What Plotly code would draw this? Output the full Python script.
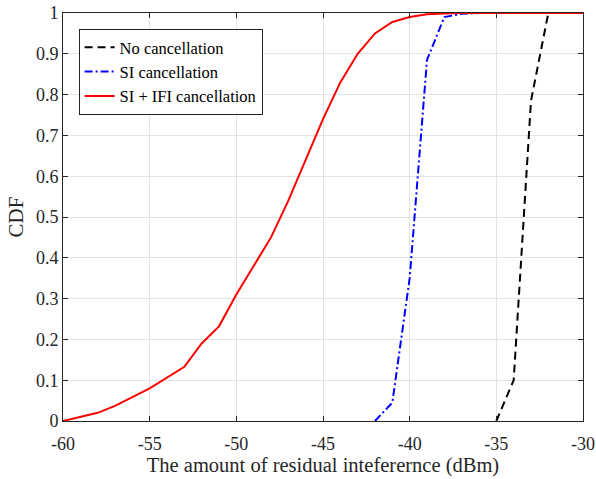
import plotly.graph_objects as go

# Data
x_none = [-35, -34, -33, -32, -30]
y_none = [0, 0.10, 0.785, 1.0, 1.0]

x_si = [-42, -41, -40, -39, -38, -37, -36, -30]
y_si = [0, 0.045, 0.35, 0.885, 0.99, 0.998, 1.0, 1.0]

x_ifi = [-60, -58, -57, -55, -53, -52, -51, -50, -49, -48, -47, -46, -45,
         -44, -43, -42, -41, -40, -39, -38, -37, -30]
y_ifi = [0, 0.02, 0.037, 0.08, 0.133, 0.19, 0.232, 0.31, 0.38, 0.45, 0.54,
         0.64, 0.74, 0.83, 0.90, 0.95, 0.978, 0.99, 0.997, 0.999, 1.0, 1.0]

x_ticks = [-60, -55, -50, -45, -40, -35, -30]
y_ticks = [0, 0.1, 0.2, 0.3, 0.4, 0.5, 0.6, 0.7, 0.8, 0.9, 1]
y_ticklabels = ["0", "0.1", "0.2", "0.3", "0.4", "0.5", "0.6", "0.7", "0.8", "0.9", "1"]

FONT = "Liberation Serif"

fig = go.Figure()
fig.add_trace(go.Scatter(x=x_none, y=y_none, mode="lines", name="No cancellation",
                         line=dict(color="black", width=2, dash="8px,5px")))
fig.add_trace(go.Scatter(x=x_si, y=y_si, mode="lines", name="SI cancellation",
                         line=dict(color="blue", width=2, dash="8px,3px,2px,3px")))
fig.add_trace(go.Scatter(x=x_ifi, y=y_ifi, mode="lines", name="SI + IFI cancellation",
                         line=dict(color="red", width=2)))

axis_common = dict(
    showline=True, linecolor="#262626", linewidth=1, mirror="ticks",
    ticks="inside", ticklen=5, tickcolor="#262626",
    showgrid=True, gridcolor="#e3e3e3", gridwidth=1, zeroline=False,
    tickfont=dict(family=FONT, size=18, color="#262626"),
    automargin=False,
)

fig.update_layout(
    width=596, height=479,
    margin=dict(l=63, r=13, t=13, b=58),
    paper_bgcolor="white", plot_bgcolor="white",
    font=dict(family=FONT, color="#262626"),
    xaxis=dict(range=[-60, -30], tickvals=x_ticks, ticktext=[str(v) for v in x_ticks],
               title=dict(text="The amount of residual inteferernce (dBm)",
                          font=dict(family=FONT, size=20.5, color="#262626"), standoff=4),
               ticklabelstandoff=6,
               **axis_common),
    yaxis=dict(range=[0, 1], tickvals=y_ticks, ticktext=y_ticklabels,
               title=dict(text="CDF", font=dict(family=FONT, size=21, color="#262626"), standoff=6),
               **axis_common),
    legend=dict(x=0.03, y=0.961, xanchor="left", yanchor="top",
                bgcolor="white", bordercolor="#262626", borderwidth=1,
                font=dict(family=FONT, size=16.5, color="black"),
                tracegroupgap=0, itemwidth=30),
    showlegend=True,
)

fig.write_html("out.html")
